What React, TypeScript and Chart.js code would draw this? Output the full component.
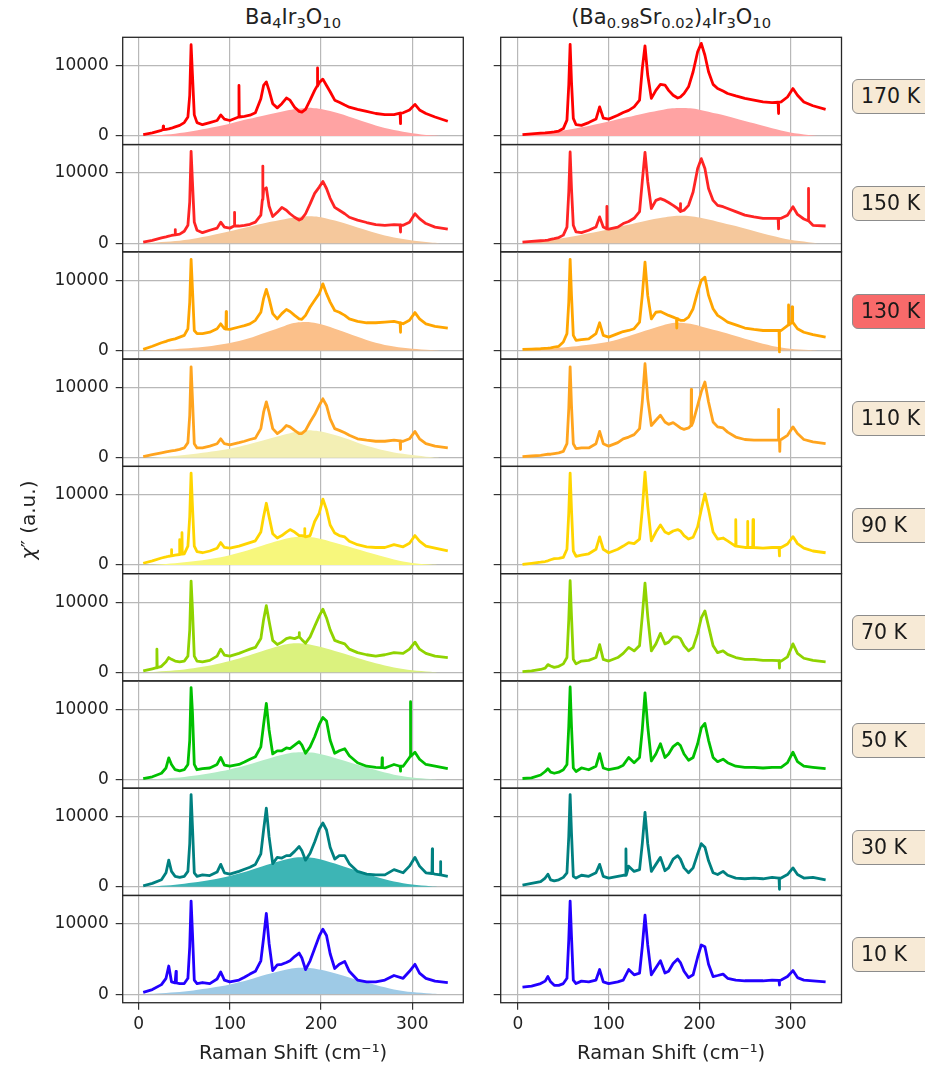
import React, { useEffect, useRef } from 'react';
import { Chart, registerables } from 'chart.js';

Chart.register(...registerables);
Chart.defaults.font.family = '"DejaVu Sans", sans-serif';

// ---------------- data ----------------
const RAMAN_SHIFT = [
  5, 15, 25, 30, 33, 36, 40, 45, 50, 54,
  56, 57.5, 59, 61, 64, 70, 78, 86, 90, 94,
  100, 110, 116, 122, 128, 134, 137, 140, 143, 147,
  152, 157, 162, 166, 171, 176, 179, 183, 188, 193,
  198, 202, 206, 210, 215, 220, 226, 231, 240, 250,
  260, 270, 280, 290, 297, 303, 308, 315, 325, 339,
];
const BG_SHIFT = [5, 20, 40, 60, 80, 100, 120, 140, 160, 170, 180, 190, 200, 220, 240, 260, 280, 300, 320, 330];
const TEMPERATURES = ['170 K', '150 K', '130 K', '110 K', '90 K', '70 K', '50 K', '30 K', '10 K'];
const X_TICKS = [0, 100, 200, 300];
const Y_TICKS = [0, 10000];
const TITLES = ['Ba4Ir3O10', '(Ba0.98Sr0.02)4Ir3O10'];

const BA_170K = [
  200, 430, 800, 950, 1000, 1100, 1300, 1500, 1900, 2700,
  5800, 13000, 8700, 3000, 1900, 1600, 1900, 2200, 3000, 2400,
  2200, 2700, 2800, 2950, 3300, 5300, 7200, 7700, 6500, 4600,
  4000, 4600, 5400, 5100, 4100, 3500, 3400, 3800, 5100, 6500,
  7600, 8100, 7200, 6300, 5100, 4800, 4400, 4100, 3800, 3500,
  3200, 3050, 3050, 3300, 3700, 4500, 3700, 3200, 2700, 2100,
];
const BA_150K = [
  150, 400, 750, 900, 1000, 1100, 1200, 1300, 1700, 2550,
  5900, 13100, 8700, 3000, 1850, 1500, 1850, 2150, 3000, 2300,
  2150, 2450, 2550, 2700, 3000, 4000, 7600, 7900, 5300, 3800,
  4400, 5100, 4700, 4200, 3700, 3300, 3500, 4200, 5600, 7100,
  8000, 8800, 7800, 6400, 5100, 4700, 4200, 3700, 3300, 2950,
  2650, 2550, 2650, 2550, 3000, 4200, 3500, 2800, 2300, 2000,
];
const BA_130K = [
  150, 600, 1100, 1300, 1450, 1550, 1650, 1900, 2150, 3100,
  6900, 13000, 8800, 2850, 2400, 2400, 2600, 3100, 3800, 3100,
  3000, 3350, 3550, 3800, 4300, 5450, 7400, 8700, 7400, 5250,
  4500, 5250, 5850, 5550, 5000, 4500, 4450, 5000, 6200, 7150,
  8100, 9500, 8100, 6900, 5700, 5450, 5000, 4500, 4150, 3950,
  3950, 4050, 4150, 3800, 4300, 5400, 4500, 3800, 3450, 3200,
];
const BA_110K = [
  150, 450, 700, 820, 900, 970, 1050, 1200, 1400, 2150,
  6050, 12950, 8400, 2000, 1400, 1400, 1650, 2000, 2700, 2000,
  1850, 2150, 2350, 2600, 2800, 4150, 6500, 7950, 6500, 4150,
  3450, 3900, 4600, 4400, 3900, 3450, 3450, 3900, 5100, 6150,
  7450, 8400, 7450, 5550, 4150, 3900, 3550, 3200, 2700, 2500,
  2350, 2350, 2500, 2350, 2700, 3750, 2700, 2000, 1650, 1400,
];
const BA_90K = [
  250, 600, 1000, 1150, 1250, 1300, 1400, 1500, 1600, 2700,
  6900, 13100, 8400, 2700, 1900, 1750, 2000, 2400, 3200, 2500,
  2400, 2700, 2950, 3200, 3450, 4700, 6900, 8800, 6900, 4450,
  3850, 4200, 4700, 5050, 4700, 4200, 4200, 4000, 4200, 6200,
  7400, 9400, 7900, 5700, 4550, 4200, 4000, 3400, 2900, 2600,
  2500, 2500, 2900, 2600, 3100, 4200, 3400, 2700, 2400, 2000,
];
const BA_70K = [
  200, 500, 850, 1500, 2100, 1850, 1600, 1500, 1600, 2300,
  6000, 13000, 9000, 2300, 1600, 1500, 1700, 2300, 3300, 2450,
  2300, 2700, 3000, 3300, 3550, 4800, 7500, 9500, 7300, 4550,
  3950, 4300, 4800, 4950, 4800, 5050, 4650, 4150, 5050, 6550,
  8000, 9000, 7750, 6050, 4550, 4300, 4050, 3300, 2800, 2500,
  2300, 2500, 2800, 2700, 3300, 4300, 3300, 2700, 2300, 2100,
];
const BA_50K = [
  150, 400, 900, 1650, 3100, 2150, 1400, 1250, 1400, 2150,
  5600, 13100, 9600, 2150, 1400, 1550, 1650, 2150, 3150, 2050,
  1900, 2150, 2500, 2900, 3250, 4650, 7850, 10850, 7100, 3650,
  4100, 4100, 4500, 4400, 4900, 5400, 4900, 3750, 4650, 6100,
  7850, 8850, 8350, 5600, 3750, 4100, 4400, 3400, 2400, 1900,
  1750, 1650, 2150, 1900, 3150, 3900, 2900, 2150, 1900, 1550,
];
const BA_30K = [
  150, 500, 1000, 2000, 3800, 2200, 1500, 1350, 1500, 2200,
  6150, 13150, 8600, 2000, 1500, 1700, 1600, 2100, 3200, 2000,
  1800, 2200, 2500, 2800, 3200, 4700, 8100, 11200, 7150, 3300,
  4200, 4100, 4450, 4450, 5050, 5750, 5150, 3800, 4800, 6400,
  8200, 9100, 8100, 5650, 3950, 4450, 4450, 3300, 2200, 1800,
  1700, 1700, 2450, 2000, 2950, 4200, 2950, 2000, 1800, 1500,
];
const BA_10K = [
  250, 650, 1350, 2250, 4000, 1750, 1600, 1500, 1500, 2250,
  6750, 13250, 8750, 2000, 1500, 1650, 1500, 2150, 3150, 2000,
  1750, 2000, 2400, 2850, 3250, 4750, 8000, 11500, 7250, 3350,
  4150, 4250, 4500, 4750, 5350, 5850, 5150, 3500, 4750, 6500,
  8250, 9250, 8350, 5750, 3650, 4250, 4650, 3250, 2000, 1750,
  1750, 2000, 2650, 2250, 3250, 4250, 3000, 2250, 1850, 1650,
];

const SR_170K = [
  200, 300, 400, 430, 480, 520, 570, 700, 1050, 2250,
  7250, 13050, 7700, 2500, 1600, 1500, 1900, 2400, 4150, 2550,
  2400, 2950, 3350, 3650, 4150, 5100, 9600, 12850, 8650, 5350,
  6500, 7350, 7250, 6500, 5800, 5400, 5550, 6050, 7000, 9150,
  12000, 13200, 11500, 9150, 7350, 6750, 6400, 6050, 5700, 5350,
  5100, 4850, 4750, 4850, 5550, 6750, 5800, 4850, 4300, 3800,
];
const SR_150K = [
  150, 250, 350, 400, 450, 550, 650, 800, 1150, 2300,
  7300, 13000, 7800, 2550, 1600, 1500, 1850, 2300, 3750, 2300,
  2000, 2300, 2800, 3100, 3550, 4500, 8800, 12950, 8800, 4950,
  6100, 6350, 6100, 5800, 5400, 4950, 4500, 4700, 5400, 7300,
  10650, 12050, 10650, 7800, 6100, 5400, 5200, 4950, 4500, 4000,
  3750, 3550, 3550, 3550, 4000, 5200, 4100, 3450, 2550, 2450,
];
const SR_130K = [
  150, 200, 250, 300, 330, 380, 480, 600, 1200, 2400,
  6900, 13000, 7850, 2150, 1450, 1550, 1650, 2400, 3950, 2150,
  1900, 2400, 2700, 2850, 3100, 4050, 7850, 12600, 7850, 4500,
  5450, 5550, 5250, 5000, 4750, 4500, 4300, 4300, 4750, 5950,
  8350, 10000, 10450, 7850, 5950, 5000, 4500, 4050, 3650, 3200,
  3000, 2850, 2850, 2850, 3550, 4050, 3100, 2600, 2250, 1900,
];
const SR_110K = [
  150, 250, 350, 450, 500, 500, 600, 700, 900, 2000,
  7000, 12950, 7450, 2000, 1300, 1400, 1400, 2000, 3750, 2000,
  1650, 2150, 2700, 2950, 3300, 4150, 7950, 13400, 8400, 4600,
  5350, 6050, 5100, 4750, 5000, 4550, 4250, 4050, 4250, 5100,
  7450, 9400, 10800, 7950, 5100, 4400, 4250, 3650, 2950, 2600,
  2500, 2500, 2500, 2600, 3200, 4400, 3450, 2600, 2250, 2000,
];
const SR_90K = [
  100, 250, 400, 500, 600, 750, 900, 950, 1100, 2250,
  7450, 13100, 7900, 2000, 1250, 1400, 1600, 2250, 4000, 2250,
  1750, 2250, 2700, 3200, 3050, 3700, 7900, 13250, 8400, 3450,
  4700, 5700, 4700, 4450, 4850, 5050, 4850, 4200, 3700, 3950,
  5450, 7900, 10150, 7900, 4700, 3700, 3850, 3450, 2700, 2500,
  2500, 2400, 2500, 2500, 3000, 4050, 3050, 2400, 2000, 1750,
];
const SR_70K = [
  100, 200, 400, 600, 1100, 900, 700, 850, 1200, 2100,
  7500, 13050, 8000, 1850, 1200, 1600, 1700, 2100, 3950, 1850,
  1600, 2100, 2700, 3550, 3050, 3800, 8000, 12700, 8000, 3050,
  4050, 5550, 4050, 4300, 5050, 5050, 4800, 3800, 3050, 3550,
  5550, 7750, 8750, 6550, 3800, 2800, 3050, 2550, 2100, 1850,
  1850, 1700, 1700, 1600, 2200, 4050, 2700, 2000, 1700, 1500,
];
const SR_50K = [
  150, 250, 650, 1150, 1550, 1050, 900, 1050, 1400, 2150,
  7600, 13200, 7600, 1650, 1150, 1650, 1400, 1900, 3700, 1650,
  1400, 1650, 2050, 3150, 2400, 3150, 7100, 12350, 7600, 2650,
  3650, 5100, 3150, 3650, 4700, 5200, 4850, 3650, 2750, 3150,
  5100, 7350, 8000, 5600, 3150, 2550, 2900, 2400, 1900, 1750,
  1750, 1650, 1750, 1750, 2400, 3900, 2550, 1900, 1750, 1550,
];
const SR_30K = [
  250, 500, 750, 1250, 1800, 1000, 850, 1000, 1350, 2000,
  7150, 13150, 7650, 1500, 1250, 1650, 1500, 2000, 3200, 1500,
  1250, 1500, 1650, 2950, 2200, 2450, 6150, 10600, 6150, 2200,
  3200, 4200, 2300, 2700, 3950, 4450, 3950, 2700, 2000, 2700,
  4700, 6150, 5650, 3700, 2000, 1750, 2200, 1650, 1250, 1150,
  1250, 1150, 1350, 1250, 1750, 2700, 1750, 1250, 1350, 1000,
];
const SR_10K = [
  1000, 1150, 1500, 1850, 2500, 1750, 1250, 1250, 1500, 2250,
  7750, 13250, 8250, 2000, 1500, 1850, 1750, 2000, 3500, 1750,
  1500, 1750, 2000, 3500, 2750, 3000, 6750, 11250, 7000, 2750,
  3750, 4750, 3000, 3250, 4350, 5000, 4500, 3250, 2350, 2750,
  5250, 7000, 6750, 4250, 2500, 2650, 2850, 2250, 2000, 1900,
  1900, 1900, 2000, 2000, 2500, 3350, 2350, 2000, 1900, 1750,
];

// narrow spikes: [shift, level beside the spike, spike tip]
const BA_170K_SPIKES = [[27, 900, 1400], [110, 2700, 7200], [196, 7100, 9700], [287, 3250, 1750]];
const BA_150K_SPIKES = [[40, 1200, 1950], [105, 2450, 4400], [136, 6200, 11000], [287, 2600, 1600]];
const BA_130K_SPIKES = [[96, 3050, 5550], [287, 3950, 2600]];
const BA_110K_SPIKES = [[287, 2400, 1200]];
const BA_90K_SPIKES = [[36, 1300, 2200], [45, 1500, 3600], [47.5, 1550, 4600], [182, 4100, 5200]];
const BA_70K_SPIKES = [[20, 650, 3300], [176, 5050, 5650]];
const BA_50K_SPIKES = [[267, 1700, 3100], [287, 1900, 1200], [298, 3300, 11100]];
const BA_30K_SPIKES = [[322, 1900, 5400], [331, 1700, 3600]];
const BA_10K_SPIKES = [[41, 1600, 3250]];
const SR_170K_SPIKES = [[287, 4800, 3200]];
const SR_150K_SPIKES = [[98, 2050, 5250], [179, 4550, 5650], [287, 3550, 2050], [320, 3200, 7800]];
const SR_130K_SPIKES = [[175, 4550, 3200], [288, 2850, -200], [298, 3600, 6500], [302, 3950, 6200]];
const SR_110K_SPIKES = [[191, 4600, 9750], [287, 2550, 6900], [288.5, 2550, 900]];
const SR_90K_SPIKES = [[240, 2700, 6450], [253, 2500, 6200], [259, 2500, 6450], [288, 2500, 1300]];
const SR_70K_SPIKES = [[288, 1650, 600]];
const SR_50K_SPIKES: number[][] = [];
const SR_30K_SPIKES = [[119, 1650, 5400], [288, 1250, -350]];
const SR_10K_SPIKES = [[288, 1950, 1300]];

// broad background (shaded)
const BA_170K_BG = [0, 100, 320, 700, 1200, 1750, 2400, 3000, 3550, 3800, 3950, 4000, 3850, 3200, 2350, 1500, 850, 400, 100, 0];
const BA_150K_BG = [0, 100, 300, 650, 1150, 1700, 2300, 2900, 3400, 3650, 3800, 3850, 3700, 3050, 2250, 1450, 800, 380, 100, 0];
const BA_130K_BG = [0, 60, 180, 380, 650, 1050, 1700, 2600, 3500, 3900, 4050, 4000, 3750, 2900, 1950, 1100, 550, 250, 60, 0];
const BA_110K_BG = [0, 80, 250, 520, 880, 1300, 1900, 2600, 3300, 3650, 3850, 3900, 3750, 3050, 2150, 1350, 750, 400, 100, 0];
const BA_90K_BG = [0, 80, 250, 520, 900, 1400, 2100, 2950, 3700, 3950, 4050, 3950, 3700, 3000, 2250, 1500, 800, 300, 80, 0];
const BA_70K_BG = [0, 90, 280, 580, 1000, 1600, 2350, 3200, 3950, 4150, 4100, 3900, 3600, 2850, 2050, 1300, 700, 300, 80, 0];
const BA_50K_BG = [0, 80, 260, 560, 950, 1450, 2100, 2900, 3600, 3850, 3900, 3850, 3600, 2900, 2100, 1350, 700, 300, 80, 0];
const BA_30K_BG = [0, 90, 280, 600, 1020, 1550, 2250, 3100, 3850, 4150, 4200, 4150, 3880, 3100, 2250, 1450, 750, 320, 90, 0];
const BA_10K_BG = [0, 80, 250, 530, 900, 1380, 2000, 2780, 3450, 3700, 3750, 3700, 3470, 2780, 2000, 1300, 670, 290, 80, 0];
const SR_170K_BG = [0, 250, 580, 1000, 1500, 2050, 2650, 3250, 3750, 3950, 4000, 3950, 3750, 3150, 2500, 1800, 1100, 500, 150, 0];
const SR_150K_BG = [0, 240, 560, 970, 1460, 2000, 2580, 3170, 3650, 3850, 3900, 3850, 3650, 3070, 2440, 1750, 1070, 490, 150, 0];
const SR_130K_BG = [0, 120, 300, 550, 850, 1250, 1950, 2800, 3600, 3900, 3950, 3800, 3500, 2800, 2050, 1300, 650, 250, 60, 0];

const LINE_COLORS = ['#ff0000', '#ff2424', '#ffa500', '#ffa41e', '#ffd500', '#8fd300', '#00c000', '#008080', '#2200ff'];
const FILL_COLORS = ['#ffa3a3', '#f5c89c', '#fbc08a', '#f3efb4', '#f7f77c', '#dbf27e', '#b3ecc6', '#3db5b5', '#9ecae6'];

const BA_SERIES = [BA_170K, BA_150K, BA_130K, BA_110K, BA_90K, BA_70K, BA_50K, BA_30K, BA_10K];
const BA_SPIKES = [BA_170K_SPIKES, BA_150K_SPIKES, BA_130K_SPIKES, BA_110K_SPIKES, BA_90K_SPIKES, BA_70K_SPIKES, BA_50K_SPIKES, BA_30K_SPIKES, BA_10K_SPIKES];
const BA_BGS = [BA_170K_BG, BA_150K_BG, BA_130K_BG, BA_110K_BG, BA_90K_BG, BA_70K_BG, BA_50K_BG, BA_30K_BG, BA_10K_BG];
const SR_SERIES = [SR_170K, SR_150K, SR_130K, SR_110K, SR_90K, SR_70K, SR_50K, SR_30K, SR_10K];
const SR_SPIKES = [SR_170K_SPIKES, SR_150K_SPIKES, SR_130K_SPIKES, SR_110K_SPIKES, SR_90K_SPIKES, SR_70K_SPIKES, SR_50K_SPIKES, SR_30K_SPIKES, SR_10K_SPIKES];
const SR_BGS = [SR_170K_BG, SR_150K_BG, SR_130K_BG, null, null, null, null, null, null];

// ---------------- layout ----------------
const ROW_TOP = 37.3;
const ROW_H = 107.27;
const COL_LEFT = [122.7, 500.7];
const COL_RIGHT = [463.3, 841.5];
const CANVAS_LEFT = [0, 470];
const CANVAS_W = [470, 455];
const X_RANGE = [[-17.5, 356], [-19, 356.5]];
const Y_MIN = -1230;
const Y_MAX = 14060;
const TEXT = '#222222';

function buildLine(xs: number[], ys: number[], spikes: number[][]) {
  const pts = xs.map((x, i) => ({ x, y: ys[i] }));
  for (const [sx, base, tip] of spikes) {
    pts.push({ x: sx - 0.35, y: base }, { x: sx, y: tip }, { x: sx + 0.35, y: base });
  }
  pts.sort((a, b) => a.x - b.x);
  return pts;
}

const framePlugin = {
  id: 'frame',
  afterDraw(c: any) {
    const { ctx, chartArea: a } = c;
    ctx.save();
    ctx.strokeStyle = '#262626';
    ctx.lineWidth = 1.3;
    ctx.strokeRect(a.left, a.top, a.right - a.left, a.bottom - a.top);
    ctx.restore();
  },
};

function zeroPadding(s: any) {
  s.paddingTop = 0;
  s.paddingBottom = 0;
  s.paddingLeft = 0;
  s.paddingRight = 0;
}

function Panel({ col, row }: { col: number; row: number }) {
  const ref = useRef<HTMLCanvasElement | null>(null);
  const isBottom = row === 8;
  const top = ROW_TOP + row * ROW_H;
  const bottom = top + ROW_H;
  const cTop = Math.floor(top) - 4;
  const xH = 40;
  const cBottom = isBottom ? Math.ceil(bottom) + xH : Math.ceil(bottom) + 4;
  const cH = cBottom - cTop;
  const cW = CANVAS_W[col];

  useEffect(() => {
    const series = col === 0 ? BA_SERIES[row] : SR_SERIES[row];
    const spikes = col === 0 ? BA_SPIKES[row] : SR_SPIKES[row];
    const bg = col === 0 ? BA_BGS[row] : SR_BGS[row];
    const datasets: any[] = [
      {
        data: buildLine(RAMAN_SHIFT, series, spikes),
        borderColor: LINE_COLORS[row],
        borderWidth: 2.8,
        pointRadius: 0,
        tension: 0,
        fill: false,
        borderJoinStyle: 'round',
        order: 0,
      },
    ];
    if (bg) {
      datasets.push({
        data: BG_SHIFT.map((x, i) => ({ x, y: bg[i] })),
        borderWidth: 0,
        borderColor: 'rgba(0,0,0,0)',
        backgroundColor: FILL_COLORS[row],
        fill: 'origin',
        pointRadius: 0,
        tension: 0.3,
        order: 1,
      });
    }
    const yW = COL_LEFT[col] - CANVAS_LEFT[col];
    const padRight = CANVAS_LEFT[col] + cW - COL_RIGHT[col];
    const chart = new Chart(ref.current as HTMLCanvasElement, {
      type: 'line',
      data: { datasets },
      plugins: [framePlugin],
      options: {
        animation: false,
        responsive: false,
        maintainAspectRatio: false,
        events: [],
        layout: {
          padding: {
            left: 0,
            right: padRight,
            top: top - cTop,
            bottom: isBottom ? 0 : cBottom - bottom,
          },
        },
        plugins: { legend: { display: false }, tooltip: { enabled: false } },
        scales: {
          x: {
            type: 'linear',
            min: X_RANGE[col][0],
            max: X_RANGE[col][1],
            afterBuildTicks: (s: any) => {
              s.ticks = X_TICKS.map((v) => ({ value: v }));
            },
            afterFit: (s: any) => {
              s.height = isBottom ? cBottom - bottom : 0;
              zeroPadding(s);
            },
            grid: {
              color: '#b8b8b8',
              lineWidth: 1.2,
              drawTicks: isBottom,
              tickLength: 7,
              tickColor: '#333333',
              tickWidth: 1.2,
            },
            border: { display: false },
            ticks: {
              display: isBottom,
              autoSkip: false,
              maxRotation: 0,
              padding: 5,
              color: TEXT,
              font: { size: 17, family: '"DejaVu Sans", sans-serif' },
              callback: (v: any) => String(v),
            },
          },
          y: {
            type: 'linear',
            min: Y_MIN,
            max: Y_MAX,
            afterBuildTicks: (s: any) => {
              s.ticks = Y_TICKS.map((v) => ({ value: v }));
            },
            afterFit: (s: any) => {
              s.width = yW;
              zeroPadding(s);
            },
            grid: {
              color: '#b8b8b8',
              lineWidth: 1.2,
              drawTicks: true,
              tickLength: 7,
              tickColor: '#333333',
              tickWidth: 1.2,
            },
            border: { display: false },
            ticks: {
              display: col === 0,
              autoSkip: false,
              padding: 7,
              color: TEXT,
              font: { size: 17, family: '"DejaVu Sans", sans-serif' },
              callback: (v: any) => String(v),
            },
          },
        },
      } as any,
    });
    return () => chart.destroy();
  }, [col, row]);

  return (
    <canvas
      ref={ref}
      width={cW}
      height={cH}
      style={{ position: 'absolute', left: CANVAS_LEFT[col], top: cTop, width: cW, height: cH }}
    />
  );
}

const subStyle: React.CSSProperties = { fontSize: '70%', verticalAlign: '-0.28em', lineHeight: 0 };

function Title({ index }: { index: number }) {
  const cx = (COL_LEFT[index] + COL_RIGHT[index]) / 2;
  const content =
    index === 0 ? (
      <>
        Ba<span style={subStyle}>4</span>Ir<span style={subStyle}>3</span>O<span style={subStyle}>10</span>
      </>
    ) : (
      <>
        (Ba<span style={subStyle}>0.98</span>Sr<span style={subStyle}>0.02</span>)<span style={subStyle}>4</span>Ir
        <span style={subStyle}>3</span>O<span style={subStyle}>10</span>
      </>
    );
  return (
    <div
      title={TITLES[index]}
      style={{
        position: 'absolute',
        left: cx - 200,
        width: 400,
        top: 7,
        textAlign: 'center',
        fontSize: 21,
        lineHeight: '21px',
        color: TEXT,
        whiteSpace: 'nowrap',
      }}
    >
      {content}
    </div>
  );
}

export default function App() {
  const panels: { col: number; row: number }[] = [];
  for (let col = 0; col < 2; col++) for (let row = 0; row < 9; row++) panels.push({ col, row });
  return (
    <div
      style={{
        position: 'absolute',
        left: 0,
        top: 0,
        width: 925,
        height: 1066,
        overflow: 'hidden',
        background: '#ffffff',
        fontFamily: '"DejaVu Sans", sans-serif',
      }}
    >
      {panels.map((p) => (
        <Panel key={`${p.col}-${p.row}`} col={p.col} row={p.row} />
      ))}
      <Title index={0} />
      <Title index={1} />
      {[0, 1].map((c) => (
        <div
          key={`xl${c}`}
          style={{
            position: 'absolute',
            left: (COL_LEFT[c] + COL_RIGHT[c]) / 2 - 150,
            width: 300,
            top: 1043,
            textAlign: 'center',
            fontSize: 19.5,
            lineHeight: '19.5px',
            color: TEXT,
            whiteSpace: 'nowrap',
          }}
        >
          Raman Shift (cm⁻¹)
        </div>
      ))}
      <div
        style={{
          position: 'absolute',
          left: 28 - 70,
          top: 520 - 12,
          width: 140,
          height: 24,
          lineHeight: '24px',
          textAlign: 'center',
          fontSize: 20,
          color: TEXT,
          transform: 'rotate(-90deg)',
          whiteSpace: 'nowrap',
        }}
      >
        <span style={{ fontStyle: 'italic' }}>χ</span>″ (a.u.)
      </div>
      {TEMPERATURES.map((t, i) => (
        <div
          key={t}
          style={{
            position: 'absolute',
            left: 852,
            top: ROW_TOP + i * ROW_H + 59.2 - 17.5,
            width: 84,
            height: 35,
            boxSizing: 'border-box',
            border: '1.5px solid #8c8c8c',
            borderRadius: 6,
            background: i === 2 ? '#f86a6a' : '#f7ead6',
            paddingLeft: 8,
            lineHeight: '32px',
            fontSize: 20.5,
            color: '#1a1a1a',
            whiteSpace: 'nowrap',
          }}
        >
          {t}
        </div>
      ))}
    </div>
  );
}
